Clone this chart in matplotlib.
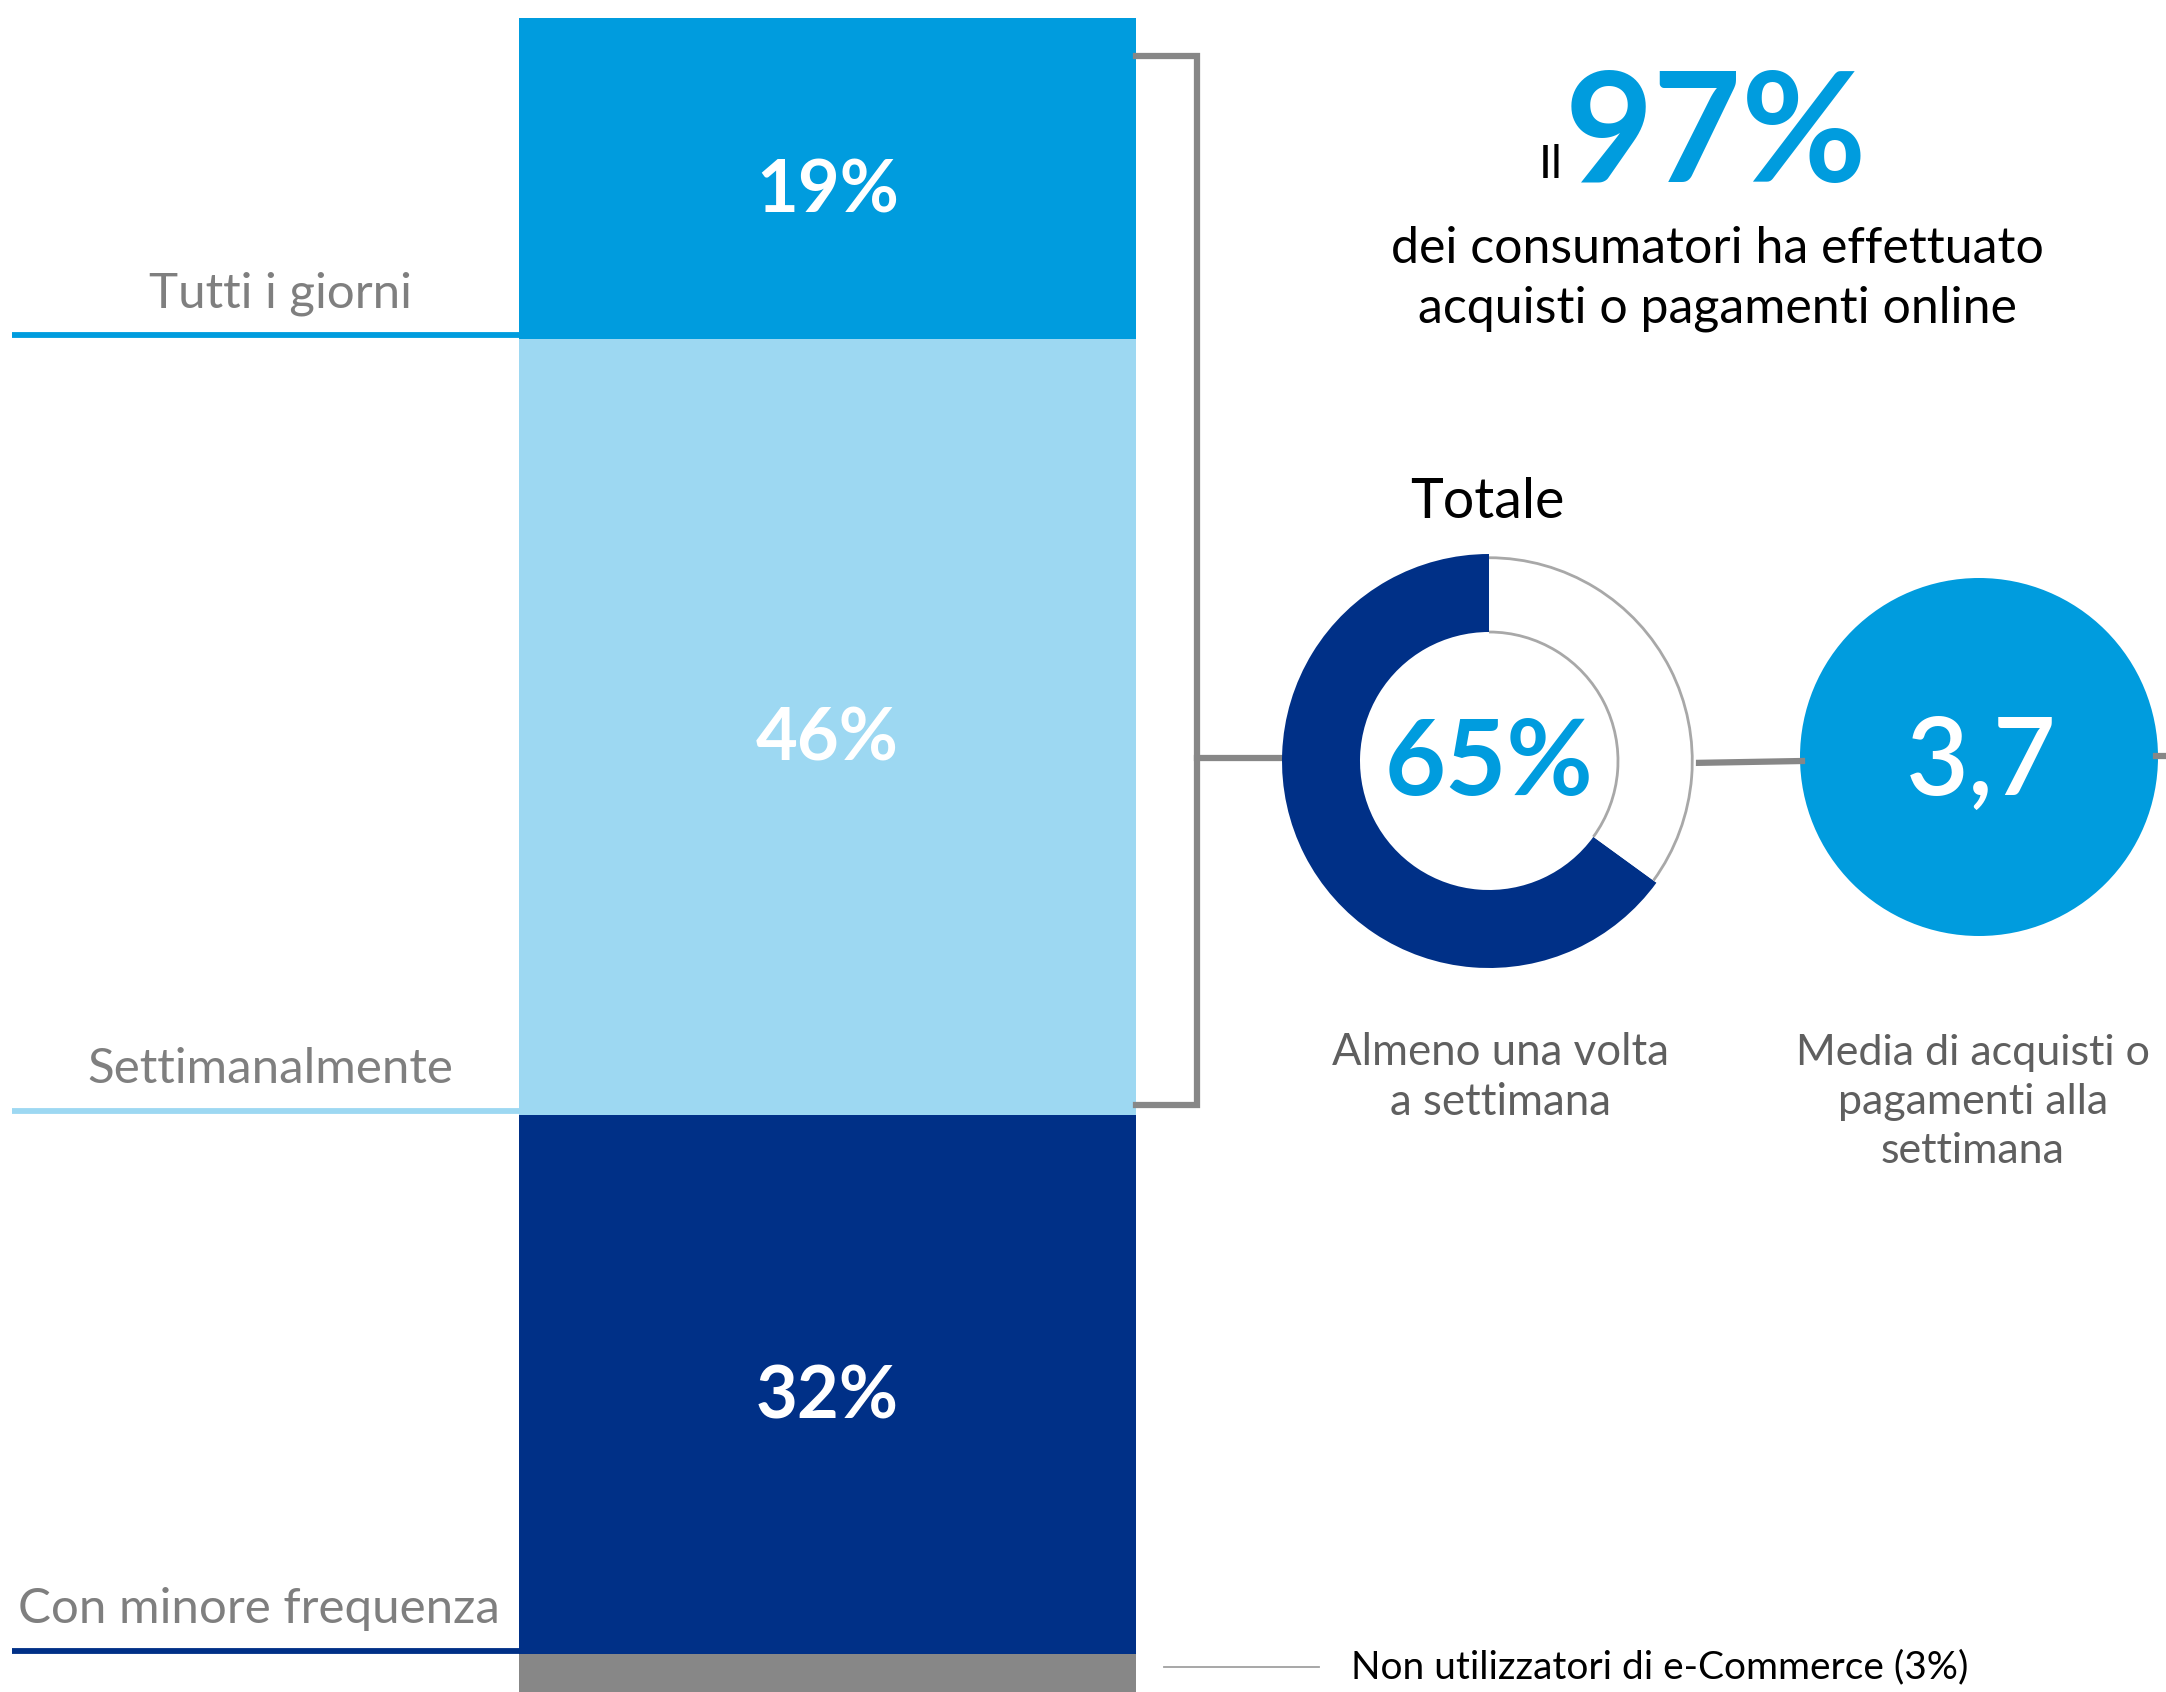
import matplotlib
matplotlib.use("Agg")
import matplotlib.pyplot as plt
from matplotlib.patches import Circle, Arc

# ---- data ----
segments = ["Tutti i giorni", "Settimanalmente", "Con minore frequenza",
            "Non utilizzatori di e-Commerce"]
shares = [19, 46, 32, 3]
weekly_share = 65          # almeno una volta a settimana
weekly_avg = 3.7           # media acquisti/pagamenti alla settimana
online_total = 97          # consumatori che hanno acquistato online

# ---- style ----
W, H = 2166, 1692
BLUE = "#009CDE"
LIGHT = "#9DD8F2"
NAVY = "#003087"
GREY = "#878787"
seg_colors = [BLUE, LIGHT, NAVY, GREY]
line_colors = [BLUE, LIGHT, NAVY]
FONT = ["Lato", "DejaVu Sans"]
plt.rcParams["font.family"] = FONT

fig = plt.figure(figsize=(W / 100, H / 100), dpi=100)

# stacked bar, y axis in percent (0 at the top)
PX_PER_PCT = 16.87
TOP_PX = 18
bax = fig.add_axes([0, 0, 1, 1])
bax.set_xlim(0, W)
bax.set_ylim((H - TOP_PX) / PX_PER_PCT, -TOP_PX / PX_PER_PCT)
bax.axis("off")

BAR_X, BAR_W = 827.5, 617
bottoms = []
acc = 0
for v in shares:
    bottoms.append(acc)
    acc += v
bax.bar([BAR_X] * len(shares), shares, bottom=bottoms, width=BAR_W,
        color=seg_colors, linewidth=0)

label_x = [280, 270, 259]
for i in range(3):
    mid = bottoms[i] + shares[i] / 2
    bax.text(BAR_X, mid + 0.8, f"{shares[i]}%", color="white", fontsize=52,
             fontweight="bold", ha="center", va="center")
    edge = bottoms[i] + shares[i]
    bax.plot([12, BAR_X - BAR_W / 2], [edge - 0.22, edge - 0.22],
             color=line_colors[i], lw=4.2, solid_capstyle="butt")
    bax.text(label_x[i], edge - 1.85, segments[i], color="#7f7f7f",
             fontsize=35.5, ha="center", va="baseline")

# overlay in pixel coordinates
ax = fig.add_axes([0, 0, 1, 1])
ax.set_xlim(0, W)
ax.set_ylim(H, 0)
ax.axis("off")
ax.patch.set_alpha(0)

# bracket joining the weekly segments to the donut
ax.plot([1136, 1197, 1197, 1136], [56, 56, 1105, 1105], color=GREY, lw=4.5,
        solid_joinstyle="miter")
ax.plot([1197, 1284], [758, 758], color=GREY, lw=4.5)
ax.plot([1690, 1802], [763, 761], color=GREY, lw=4.5)
ax.plot([2156, 2166], [756, 756], color=GREY, lw=4.5)

# non-users note
ax.plot([1164, 1319], [1667, 1667], color="#a0a0a0", lw=1.3)
ax.text(1351, 1667, f"{segments[3]} ({shares[3]}%)", color="black",
        fontsize=28, ha="left", va="center")

# headline
ax.text(1563, 178, "Il", fontsize=33, color="black", ha="right",
        va="baseline")
ax.text(1565, 182, f"{online_total}%", fontsize=110, fontweight="bold",
        color=BLUE, ha="left", va="baseline")
ax.text(1717, 263, "dei consumatori ha effettuato", fontsize=36,
        color="black", ha="center", va="baseline")
ax.text(1717, 322, "acquisti o pagamenti online", fontsize=36,
        color="black", ha="center", va="baseline")

# donut
CX, CY, R_OUT, R_IN = 1489, 761, 207, 129
dax = fig.add_axes([(CX - R_OUT) / W, 1 - (CY + R_OUT) / H,
                    2 * R_OUT / W, 2 * R_OUT / H])
wedges, _ = dax.pie([weekly_share, 100 - weekly_share], startangle=90,
                    counterclock=True, colors=[NAVY, "white"], radius=1,
                    wedgeprops=dict(width=1 - R_IN / R_OUT, linewidth=0))
w = wedges[1]
for r in (0.982, R_IN / R_OUT):
    dax.add_patch(Arc((0, 0), 2 * r, 2 * r, theta1=w.theta1, theta2=w.theta2,
                      color="#a8a8a8", lw=2.0))
dax.set_xlim(-1, 1)
dax.set_ylim(-1, 1)
dax.set_aspect("equal")
dax.axis("off")

ax.text(CX, CY + 4, f"{weekly_share}%", fontsize=76, fontweight="bold",
        color=BLUE, ha="center", va="center")
ax.text(CX - 2, 518, "Totale", fontsize=40, color="black", ha="center",
        va="baseline")
ax.text(1500, 1065, "Almeno una volta", fontsize=31.5, color="#5f5f5f",
        ha="center", va="baseline")
ax.text(1500, 1115, "a settimana", fontsize=31.5, color="#5f5f5f",
        ha="center", va="baseline")

# average circle
ax.add_patch(Circle((1979, 757), 179, color=BLUE, lw=0))
ax.text(1981, 764, f"{weekly_avg:.1f}".replace(".", ","), fontsize=78,
        fontweight="semibold", color="white", ha="center", va="center")
for i, t in enumerate(["Media di acquisti o", "pagamenti alla", "settimana"]):
    ax.text(1973, 1065 + 49 * i, t, fontsize=31, color="#5f5f5f",
            ha="center", va="baseline")

fig.savefig("out.png", dpi=100)
